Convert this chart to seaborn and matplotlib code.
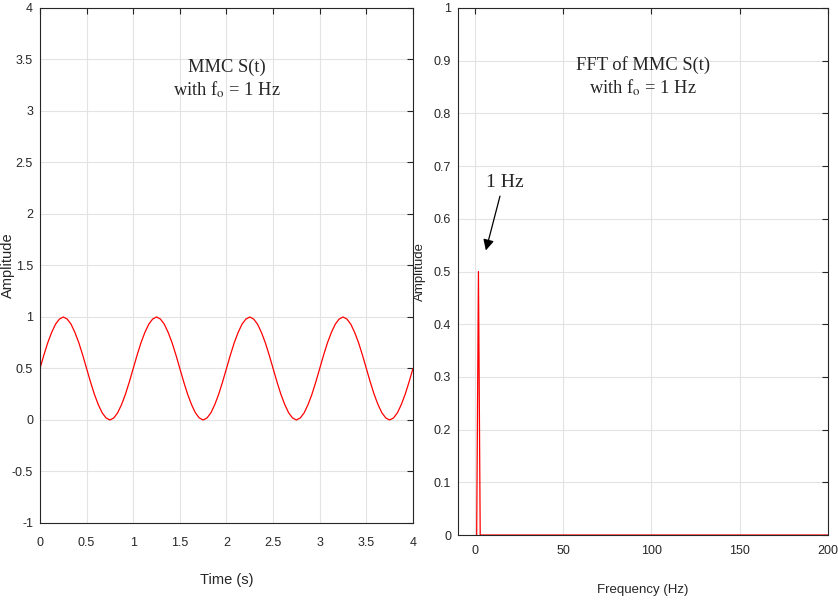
import numpy as np
import pandas as pd
import matplotlib
matplotlib.use("Agg")
import matplotlib.pyplot as plt
import seaborn as sns

# S(t), 24 samples per period (t step = 1/24 s)
signal_vals = [
    0.5, 0.63, 0.75, 0.85, 0.93, 0.98, 1.0, 0.98, 0.93, 0.85, 0.75, 0.63,
    0.5, 0.37, 0.25, 0.15, 0.07, 0.02, 0.0, 0.02, 0.07, 0.15, 0.25, 0.37,
    0.5, 0.63, 0.75, 0.85, 0.93, 0.98, 1.0, 0.98, 0.93, 0.85, 0.75, 0.63,
    0.5, 0.37, 0.25, 0.15, 0.07, 0.02, 0.0, 0.02, 0.07, 0.15, 0.25, 0.37,
    0.5, 0.63, 0.75, 0.85, 0.93, 0.98, 1.0, 0.98, 0.93, 0.85, 0.75, 0.63,
    0.5, 0.37, 0.25, 0.15, 0.07, 0.02, 0.0, 0.02, 0.07, 0.15, 0.25, 0.37,
    0.5, 0.63, 0.75, 0.85, 0.93, 0.98, 1.0, 0.98, 0.93, 0.85, 0.75, 0.63,
    0.5, 0.37, 0.25, 0.15, 0.07, 0.02, 0.0, 0.02, 0.07, 0.15, 0.25, 0.37,
    0.5,
]
time_s = np.arange(len(signal_vals)) / 24.0

# FFT magnitude
freq_hz = [1, 2, 3, 200]
fft_mag = [0.0, 0.5, 0.0, 0.0]

left_yticks = [-1, -0.5, 0, 0.5, 1, 1.5, 2, 2.5, 3, 3.5, 4]
left_xticks = [0, 0.5, 1, 1.5, 2, 2.5, 3, 3.5, 4]
right_yticks = [0, 0.1, 0.2, 0.3, 0.4, 0.5, 0.6, 0.7, 0.8, 0.9, 1]
right_xticks = [0, 50, 100, 150, 200]

sns.set_style("whitegrid")
plt.rcParams['font.family'] = ['Liberation Sans Narrow', 'Liberation Sans', 'DejaVu Sans']
plt.rcParams['mathtext.fontset'] = 'stix'

df_t = pd.DataFrame({"t": time_s, "s": signal_vals})
df_f = pd.DataFrame({"f": freq_hz, "a": fft_mag})

fig = plt.figure(figsize=(8.38, 6.01), dpi=100)
ax1 = fig.add_axes([0.0477, 0.1298, 0.4451, 0.8569])
ax2 = fig.add_axes([0.5465, 0.1098, 0.4415, 0.8769])

sns.lineplot(data=df_t, x="t", y="s", ax=ax1, color="red", linewidth=0.9)
sns.lineplot(data=df_f, x="f", y="a", ax=ax2, color="red", linewidth=0.9)


def matlab_axes(ax, xticks, yticks, xlim, ylim, xpad):
    ax.set_xlim(*xlim)
    ax.set_ylim(*ylim)
    ax.set_xticks(xticks)
    ax.set_yticks(yticks)
    ax.set_xticklabels([f"{v:g}" for v in xticks])
    ax.set_yticklabels([f"{v:g}" for v in yticks])
    ax.grid(True, color="#e3e3e3", linewidth=0.8)
    for sp in ax.spines.values():
        sp.set_visible(True)
        sp.set_color("#262626")
        sp.set_linewidth(0.8)
    ax.tick_params(direction="in", length=4, width=0.8, color="#262626",
                   top=True, right=True, labelsize=9, labelcolor="#262626", pad=5)
    ax.tick_params(axis="x", pad=xpad)
    ax.set_facecolor("white")


matlab_axes(ax1, left_xticks, left_yticks, (0, 4), (-1, 4), 10)
matlab_axes(ax2, right_xticks, right_yticks, (-9.6, 200), (0, 1), 7)

ax1.set_xlabel("Time (s)", fontsize=10.5, color="#262626")
ax1.set_ylabel("Amplitude", fontsize=10.5, color="#262626")
ax2.set_xlabel("Frequency (Hz)", fontsize=9.5, color="#262626")
ax2.set_ylabel("Amplitude", fontsize=9.5, color="#262626")
ax1.xaxis.set_label_coords(0.5, -0.098)
ax1.yaxis.set_label_coords(-0.067, 0.5)
ax2.xaxis.set_label_coords(0.5, -0.093)
ax2.yaxis.set_label_coords(-0.086, 0.5)

serif = ['Liberation Serif', 'DejaVu Serif']
ax1.text(0.5, 0.861, "MMC S(t)\nwith f$_\\mathrm{o}$ = 1 Hz", transform=ax1.transAxes,
         ha="center", va="center", fontsize=13.3, family=serif, linespacing=1.25)
ax2.text(0.5, 0.869, "FFT of MMC S(t)\nwith f$_\\mathrm{o}$ = 1 Hz", transform=ax2.transAxes,
         ha="center", va="center", fontsize=13.3, family=serif, linespacing=1.25)

ax2.text(17.0, 0.668, "1 Hz", fontsize=14, family=serif, ha="center", va="center")
ax2.annotate("", xy=(6.2, 0.54), xytext=(14.2, 0.643),
             arrowprops=dict(arrowstyle="-|>", color="black", lw=0.9,
                             mutation_scale=16, shrinkA=0, shrinkB=0))

fig.savefig("out.png", dpi=100)
